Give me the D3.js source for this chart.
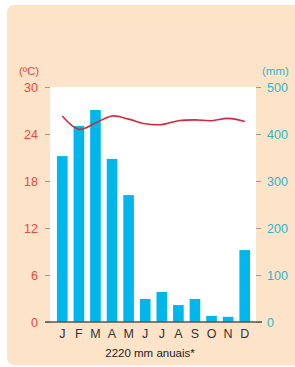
<!DOCTYPE html>
<html><head><meta charset="utf-8">
<script src="https://cdn.jsdelivr.net/npm/d3@7/dist/d3.min.js"></script>
<style>body{margin:0;background:#fff}svg{display:block}</style>
</head><body>
<svg id="c" width="295" height="367"></svg>
<script>
const months = ["J","F","M","A","M","J","J","A","S","O","N","D"];
const precip = [353,417,451,347,270,49,64,36,49,13,11,153];
const temp = [26.3,24.6,25.4,26.3,25.9,25.3,25.2,25.7,25.8,25.7,26.0,25.6];
const tempTicks = [0,6,12,18,24,30];
const precipTicks = [0,100,200,300,400,500];

const svg = d3.select("#c");
const font = "Liberation Sans, Arial, sans-serif";
svg.append("rect").attr("x",7).attr("y",5).attr("width",310).attr("height",360).attr("rx",7).attr("fill","#fde3c8");

const L=50, R=256, T=87, B=322;
svg.append("rect").attr("x",L).attr("y",T).attr("width",R-L).attr("height",B-T).attr("fill","#fff");

const x = d3.scaleBand().domain(d3.range(12)).range([54,253]).paddingInner(0.36).paddingOuter(0.18);
const yT = d3.scaleLinear().domain([0,30]).range([B,T]);
const yP = d3.scaleLinear().domain([0,500]).range([B,T]);

svg.append("g").selectAll("rect").data(precip).join("rect")
  .attr("x",(d,i)=>x(i)).attr("width",x.bandwidth())
  .attr("y",d=>yP(d)).attr("height",d=>B-yP(d)).attr("fill","#00b6ea");

const line = d3.line().x((d,i)=>x(i)+x.bandwidth()/2).y(d=>yT(d)).curve(d3.curveCatmullRom);
svg.append("path").datum(temp).attr("d",line).attr("fill","none").attr("stroke","#d5283d").attr("stroke-width",1.6);

const la = svg.append("g").attr("transform",`translate(${L},0)`)
  .call(d3.axisLeft(yT).tickValues(tempTicks).tickSize(5).tickPadding(7));
la.select(".domain").remove();
la.selectAll("line").attr("stroke","#999");
la.selectAll("text").attr("fill","#e5483e").attr("font-size",12.5).attr("font-family",font);

const ra = svg.append("g").attr("transform",`translate(${R},0)`)
  .call(d3.axisRight(yP).tickValues(precipTicks).tickSize(5).tickPadding(6));
ra.select(".domain").remove();
ra.selectAll("line").attr("stroke","#999");
ra.selectAll("text").attr("fill","#2db5cc").attr("font-size",12.5).attr("font-family",font);

svg.append("line").attr("x1",45).attr("x2",262).attr("y1",B).attr("y2",B).attr("stroke","#555").attr("stroke-width",1.5);

svg.append("g").selectAll("text").data(months).join("text")
  .attr("x",(d,i)=>x(i)+x.bandwidth()/2).attr("y",338).attr("text-anchor","middle")
  .attr("font-size",12.5).attr("font-family",font).attr("fill","#333").text(d=>d);

svg.append("text").attr("x",150).attr("y",357).attr("text-anchor","middle")
  .attr("font-size",11.5).attr("font-family",font).attr("fill","#222").text("2220 mm anuais*");

svg.append("text").attr("x",19).attr("y",75).attr("font-size",11.5).attr("font-family",font).attr("fill","#e5483e").text("(ºC)");
svg.append("text").attr("x",262).attr("y",75).attr("font-size",11.5).attr("font-family",font).attr("fill","#2db5cc").text("(mm)");
</script>
</body></html>
